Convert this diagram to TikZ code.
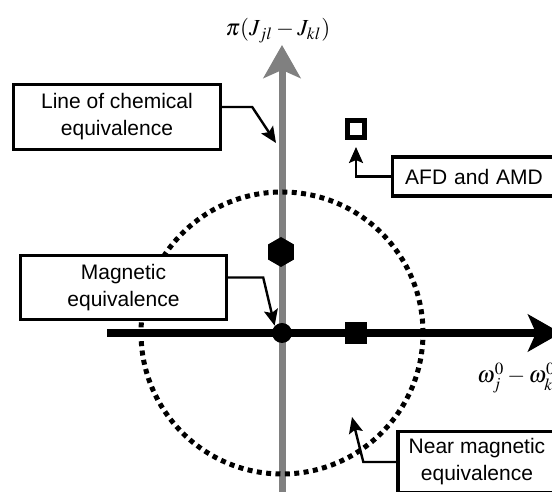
\documentclass[tikz,border=0pt]{standalone}
\usepackage{mathptmx}
\usepackage{fontspec}
\setmainfont{Liberation Sans}
\usetikzlibrary{arrows.meta,calc,positioning,shapes.geometric}
\definecolor{AxisGray}{HTML}{808080}
\tikzset{
  infobox/.style={draw=black,line width=1.7pt,fill=white,align=center,
    inner sep=0pt,font=\fontsize{10.5}{13.5}\selectfont},
  callout/.style={line width=1.2pt,-{Stealth[length=8pt,width=7pt,inset=1.5pt]}},
  axisline/.style={-{Stealth[length=16.5pt,width=18.5pt,inset=4pt]}},
  axislabel/.style={font=\fontsize{11.5}{14}\selectfont},
  ringdots/.style={line width=2.5pt,dash pattern=on 2.5pt off 2.2pt},
}

\begin{document}
\begin{tikzpicture}[x=0.5pt,y=0.5pt]
        \useasboundingbox (0,0) rectangle (552,492);
        \clip (0,0) rectangle (552,492);

        % axes
        \coordinate (O) at (282,159);
        \coordinate (yfoot) at (282,-10);
        \coordinate (ytip) at (282,447);
        \coordinate (xfoot) at (107,159);
        \coordinate (xtip) at (561,159);
        \draw[axisline,AxisGray,line width=3.5pt] (yfoot) -- (ytip);
        \draw[axisline,black,line width=4pt] (xfoot) -- (xtip);

        \node[axislabel] (ylabel) at (278,461) {$\pi(J_{jl}-J_{kl})$};
        \node[axislabel,anchor=west] (xlabel) at (470,114)
          {$\omega_j^0-\omega_k^0$};

        % near equivalence ring
        \draw[ringdots] (O) circle[radius=141];

        % markers
        \node[circle,fill=black,minimum size=10pt,inner sep=0pt] (origin) at (O) {};
        \node[fill=black,minimum size=11pt,inner sep=0pt] (sqmark) at (356,159) {};
        \node[regular polygon,regular polygon sides=6,shape border rotate=30,
          fill=black,minimum size=15pt,inner sep=0pt] (hexmark) at (281,240) {};
        \node[draw=black,fill=white,line width=2.5pt,minimum size=8.5pt,
          inner sep=0pt] (afdmark) at (356,363) {};

        % boxes
        \node[infobox,minimum width=103.5pt,minimum height=32.5pt] (chembox)
          at (117,375) {Line of chemical\\equivalence};
        \node[infobox,minimum width=103pt,minimum height=32pt] (magbox)
          at (123.5,204.5) {Magnetic\\equivalence};
        \node[infobox,anchor=north west,align=left,inner xsep=6.5pt,
          text width=72pt,minimum height=19.5pt] (afdbox)
          at (390.5,336.5) {AFD and AMD};
        \node[infobox,minimum width=79pt,minimum height=30.5pt] (nearbox)
          at (477,30) {Near magnetic\\equivalence};

        % callouts
        \coordinate (chemtip) at (276,349);
        \coordinate (afdtip) at (356,345);
        \coordinate (neartip) at (352,75);
        \draw[callout] ([yshift=5pt]chembox.east) -- ++(30,0) -- (chemtip);
        \draw[callout] ([yshift=5pt]magbox.east) -- ++(35,0) -- (origin.north west);
        \draw[callout] (afdbox.west) -| (afdtip);
        \draw[callout] (nearbox.west) -- ++(-33,0) -- (neartip);
      \end{tikzpicture}
\end{document}
